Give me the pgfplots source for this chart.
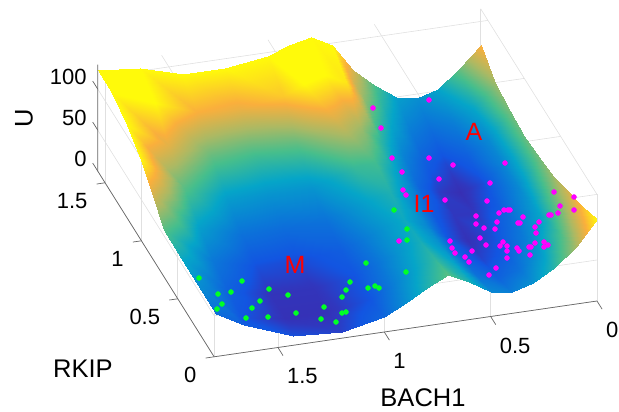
\documentclass[border=0pt]{standalone}
\usepackage{fontspec}
\setmainfont{Liberation Sans}
\usepackage{pgfplots}
\pgfplotsset{compat=1.18}
\definecolor{gl}{gray}{0.88}
\definecolor{al}{gray}{0.4}
\definecolor{gpt}{rgb}{0,1,0.15}
\definecolor{mpt}{rgb}{1,0,1}
\begin{document}
\begin{tikzpicture}[x=1pt,y=1pt]
\useasboundingbox (0,0) rectangle (619,412);
\begin{axis}[
  anchor=origin, at={(597pt,111pt)},
  x={(-212.7pt,-31pt)}, y={(-72.7pt,116pt)}, z={(0pt,0.82pt)},
  xmin=0,xmax=1.8,ymin=0,ymax=1.6,zmin=0,zmax=130,
  xtick={0,0.5,1,1.5}, ytick={0,0.5,1,1.5}, ztick={0,50,100},
  xticklabels={0,0.5,1,1.5}, yticklabels={0,0.5,1,1.5}, zticklabels={0,50,100},
  grid=major, grid style={gl,line width=0.6pt},
  axis line style={draw=none}, tick style={draw=none}, major tick length=0pt,
  tick label style={font=\fontsize{22}{22}\selectfont,text=black,inner sep=0pt},
  x tick label style={anchor=north west,xshift=9pt,yshift=-21pt},
  y tick label style={anchor=east,xshift=-17.5pt,yshift=-18.5pt},
  z tick label style={anchor=east,xshift=-11pt,yshift=12pt},
  clip=false,
  colormap={m}{rgb255(0)=(62,38,168) rgb255(6)=(48,55,190) rgb255(12)=(18,85,225) rgb255(25)=(10,122,215) rgb255(40)=(5,165,200) rgb255(55)=(70,190,140) rgb255(70)=(170,185,100) rgb255(85)=(250,175,60) rgb255(100)=(255,250,10)},
  point meta min=0, point meta max=100,
]
\draw[gl,line width=0.6pt] (axis cs:0,1.6,0) -- (axis cs:0,1.6,130);
\addplot3[surf,shader=interp,mesh/cols=15,mesh/ordering=x varies] table[row sep=\\]{
x y z\\
0 1.6 86\\ .1 1.6 60\\ .2 1.6 40\\ .3 1.6 32\\ .4 1.6 38\\ .5 1.6 56\\ .6 1.6 78\\ .7 1.6 112\\ .8 1.6 126\\ .9 1.6 120\\ 1 1.6 110\\ 1.2 1.6 103\\ 1.4 1.6 103\\ 1.6 1.6 118\\ 1.8 1.6 124\\
0 1.4 68\\ .1 1.4 40\\ .2 1.4 26\\ .3 1.4 20\\ .4 1.4 26\\ .5 1.4 42\\ .6 1.4 62\\ .7 1.4 96\\ .8 1.4 108\\ .9 1.4 100\\ 1 1.4 90\\ 1.2 1.4 82\\ 1.4 1.4 85\\ 1.6 1.4 104\\ 1.8 1.4 124\\
0 1.2 62\\ .1 1.2 30\\ .2 1.2 16\\ .3 1.2 9\\ .4 1.2 15\\ .5 1.2 28\\ .6 1.2 48\\ .7 1.2 68\\ .8 1.2 76\\ .9 1.2 68\\ 1 1.2 58\\ 1.2 1.2 54\\ 1.4 1.2 59\\ 1.6 1.2 80\\ 1.8 1.2 113\\
0 1 60\\ .1 1 28\\ .2 1 10\\ .3 1 3\\ .4 1 7\\ .5 1 18\\ .6 1 38\\ .7 1 54\\ .8 1 52\\ .9 1 42\\ 1 1 34\\ 1.2 1 34\\ 1.4 1 37\\ 1.6 1 58\\ 1.8 1 99\\
0 .8 62\\ .1 .8 30\\ .2 .8 14\\ .3 .8 6\\ .4 .8 6\\ .5 .8 14\\ .6 .8 32\\ .7 .8 46\\ .8 .8 40\\ .9 .8 31\\ 1 .8 22\\ 1.2 .8 20\\ 1.4 .8 22\\ 1.6 .8 38\\ 1.8 .85 79\\
0 .6 68\\ .1 .6 36\\ .2 .6 20\\ .3 .6 10\\ .4 .6 4\\ .5 .6 12\\ .6 .6 30\\ .7 .6 42\\ .8 .6 34\\ .9 .6 24\\ 1 .6 15\\ 1.2 .6 10\\ 1.4 .6 11\\ 1.6 .6 24\\ 1.8 .69 57\\
0 .4 78\\ .1 .4 44\\ .2 .4 26\\ .3 .4 14\\ .4 .4 9\\ .5 .4 16\\ .6 .4 34\\ .7 .4 44\\ .8 .4 34\\ .9 .4 22\\ 1 .4 12\\ 1.2 .4 5\\ 1.4 .4 5\\ 1.6 .4 16\\ 1.77 .55 42\\
0 .2 88\\ .1 .2 56\\ .2 .2 36\\ .3 .2 22\\ .4 .2 16\\ .5 .2 22\\ .6 .2 40\\ .7 .2 50\\ .8 .2 38\\ .9 .2 25\\ 1 .2 12\\ 1.2 .2 4\\ 1.4 .2 4\\ 1.6 .2 12\\ 1.75 .4 33\\
0 0 100\\ .1 0 70\\ .2 0 48\\ .3 0 33\\ .4 0 26\\ .5 0 30\\ .6 0 46\\ .7 0 58\\ .8 0 46\\ .9 0 32\\ 1 0 18\\ 1.2 0 8\\ 1.43 0 11\\ 1.62 .12 15\\ 1.72 .21 20\\
};
\draw[al,line width=0.7pt] (axis cs:0,0,0) -- (axis cs:1.8,0,0) -- (axis cs:1.8,1.6,0) -- (axis cs:1.8,1.6,130);
\pgfplotsinvokeforeach{0,0.5,1,1.5}{
  \draw[al,line width=0.7pt] (axis cs:#1,0,0) -- (axis cs:#1,-0.07,0);
  \draw[al,line width=0.7pt] (axis cs:1.8,#1,0) -- (axis cs:1.84,#1,0);
}
\pgfplotsinvokeforeach{0,50,100}{
  \draw[al,line width=0.7pt] (axis cs:1.8,1.6,#1) -- (axis cs:1.8,1.67,#1);
}
\end{axis}
\begin{axis}[
  anchor=south west, at={(0pt,0pt)}, width=619pt, height=412pt, scale only axis,
  hide axis, xmin=0,xmax=619,ymin=0,ymax=412,y dir=reverse, clip=false,
]
\addplot[only marks,mark=*,mark size=2.5pt,color=gpt] coordinates {
(199,278)(218,294)(222,304)(217,309)(231,292)(242,281)(260,301)(252,308)(246,318)(268,317)(269,289)(288,295)(296,313)(321,319)(324,307)(336,322)(342,313)(346,312)(342,297)(346,290)(350,282)(368,288)(375,286)(379,288)(366,263)(406,272)(407,240)(407,229)(394,210)};
\addplot[only marks,mark=*,mark size=2.5pt,color=mpt] coordinates {
(406,195)(445,200)(487,201)(476,216)(476,224)(484,228)(495,229)(497,222)(499,213)(504,210)(508,210)(510,210)(523,217)(518,223)(520,223)(535,227)(539,222)(536,233)(535,243)(529,247)(531,247)(530,255)(517,248)(519,251)(544,242)(544,247)(548,245)(549,215)(551,215)(558,213)(560,206)(574,210)(574,197)(554,192)(450,241)(452,248)(455,253)(465,257)(469,262)(472,251)(480,238)(486,245)(500,246)(503,242)(507,246)(507,251)(507,258)(496,268)(489,275)(399,241)(429,100)(429,158)(453,165)(439,179)(402,172)(403,190)(505,163)(490,183)(373,108)(381,128)(392,158)};
\node[text=red,font=\fontsize{25}{25}\selectfont] at (axis cs:295,265) {M};
\node[text=red,font=\fontsize{25}{25}\selectfont] at (axis cs:424,204) {I1};
\node[text=red,font=\fontsize{25}{25}\selectfont] at (axis cs:474,132) {A};
\node[font=\fontsize{25.5}{25.5}\selectfont,rotate=90] at (axis cs:24,118) {U};
\node[font=\fontsize{25.5}{25.5}\selectfont] at (axis cs:83,369) {RKIP};
\node[font=\fontsize{25.5}{25.5}\selectfont] at (axis cs:423,398) {BACH1};
\end{axis}
\end{tikzpicture}
\end{document}
